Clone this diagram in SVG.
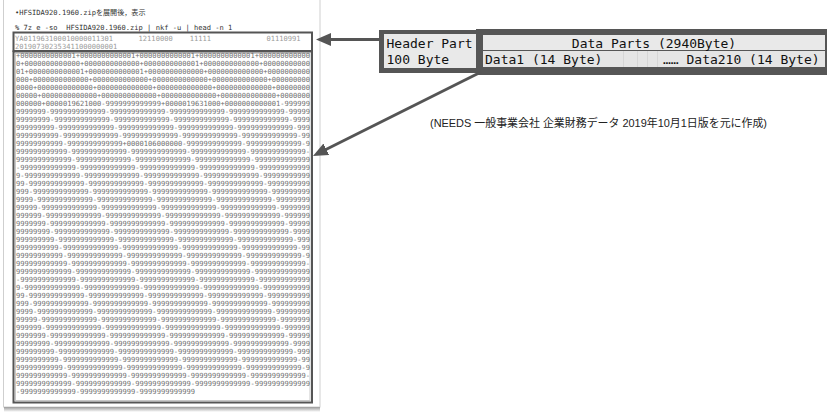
<svg xmlns="http://www.w3.org/2000/svg" width="827" height="415" viewBox="0 0 827 415">
<style>
.mono{font-family:"DejaVu Sans Mono","Liberation Mono","Noto Sans CJK JP",monospace;}
.small{font-size:7.08px;}
.dump{fill:#6e6e6e;}
.hdr{fill:#9a9a9a;}
.cmd{fill:#333;}
.cell{font-size:13px;fill:#111;}
.frame{fill:#565656;}
.bg1{fill:#e9e9e9;}
.bg2{fill:#e5e5e5;}
.conn{stroke:#555;stroke-width:3;fill:none;}
.cap{font-family:"Liberation Sans","Noto Sans CJK JP",sans-serif;font-size:11px;fill:#222;}
</style>
<defs>
<marker id="ah" markerUnits="userSpaceOnUse" markerWidth="16" markerHeight="14" refX="5" refY="6.5" orient="auto" viewBox="0 0 16 14">
<path d="M0,0 L15,6.5 L0,13 Z" fill="#555"/>
</marker>
<linearGradient id="sh" x1="0" y1="0" x2="0" y2="1">
<stop offset="0" stop-color="#9a9a9a"/>
<stop offset="1" stop-color="#ffffff"/>
</linearGradient>
</defs>
<rect width="827" height="415" fill="#fff"/>
<g id="page">
<rect x="3.5" y="-2" width="316.5" height="409" fill="#fff" stroke="#cfcfcf" stroke-width="1"/>
<rect x="4" y="407" width="316" height="5" fill="url(#sh)"/>
<text class="mono small cmd" x="15" y="15">•HFSIDA920.1960.zipを展開後，表示</text>
<text class="mono small cmd" x="15" y="29.5" xml:space="preserve">% 7z e -so  HFSIDA920.1960.zip | nkf -u | head -n 1</text>
</g>
<g id="header-box">
<rect x="13.5" y="32.5" width="298.5" height="18.5" fill="none" stroke="#555" stroke-width="2"/>
<text class="mono small hdr" x="15" y="41" xml:space="preserve">YA011963100010000011301      12110000    11111             01110991</text>
<text class="mono small hdr" x="15" y="49.2">201907302353411000000001</text>
</g>
<g id="data-box">
<rect x="13.5" y="51.5" width="298.5" height="351" fill="none" stroke="#555" stroke-width="2"/>
<rect x="15.5" y="53.5" width="294.5" height="347" fill="none" stroke="#c8c8c8" stroke-width="1"/>
<text class="mono small dump" x="15" y="57.5">
<tspan x="16" y="57.5">+0000000000001+0000000000001+0000000000001+0000000000001+000000000000</tspan>
<tspan x="16" dy="8">0+0000000000000+0000000000000+0000000000001+0000000000000+00000000000</tspan>
<tspan x="16" dy="8">01+0000000000001+0000000000001+0000000000000+0000000000000+0000000000</tspan>
<tspan x="16" dy="8">000+0000000000000+0000000000000+0000000000000+0000000000000+000000000</tspan>
<tspan x="16" dy="8">0000+0000000000000+0000000000000+0000000000000+0000000000000+00000000</tspan>
<tspan x="16" dy="8">00000+0000000000000+0000000000000+0000000000000+0000000000000+0000000</tspan>
<tspan x="16" dy="8">000000+0000019621000-9999999999999+0000019631000+0000000000001-999999</tspan>
<tspan x="16" dy="8">9999999-9999999999999-9999999999999-9999999999999-9999999999999-99999</tspan>
<tspan x="16" dy="8">99999999-9999999999999-9999999999999-9999999999999-9999999999999-9999</tspan>
<tspan x="16" dy="8">999999999-9999999999999-9999999999999-9999999999999-9999999999999-999</tspan>
<tspan x="16" dy="8">9999999999-9999999999999-9999999999999-9999999999999-9999999999999-99</tspan>
<tspan x="16" dy="8">99999999999-9999999999999+0000106000000-9999999999999-9999999999999-9</tspan>
<tspan x="16" dy="8">999999999999-9999999999999-9999999999999-9999999999999-9999999999999-</tspan>
<tspan x="16" dy="8">9999999999999-9999999999999-9999999999999-9999999999999-9999999999999</tspan>
<tspan x="16" dy="8">-9999999999999-9999999999999-9999999999999-9999999999999-999999999999</tspan>
<tspan x="16" dy="8">9-9999999999999-9999999999999-9999999999999-9999999999999-99999999999</tspan>
<tspan x="16" dy="8">99-9999999999999-9999999999999-9999999999999-9999999999999-9999999999</tspan>
<tspan x="16" dy="8">999-9999999999999-9999999999999-9999999999999-9999999999999-999999999</tspan>
<tspan x="16" dy="8">9999-9999999999999-9999999999999-9999999999999-9999999999999-99999999</tspan>
<tspan x="16" dy="8">99999-9999999999999-9999999999999-9999999999999-9999999999999-9999999</tspan>
<tspan x="16" dy="8">999999-9999999999999-9999999999999-9999999999999-9999999999999-999999</tspan>
<tspan x="16" dy="8">9999999-9999999999999-9999999999999-9999999999999-9999999999999-99999</tspan>
<tspan x="16" dy="8">99999999-9999999999999-9999999999999-9999999999999-9999999999999-9999</tspan>
<tspan x="16" dy="8">999999999-9999999999999-9999999999999-9999999999999-9999999999999-999</tspan>
<tspan x="16" dy="8">9999999999-9999999999999-9999999999999-9999999999999-9999999999999-99</tspan>
<tspan x="16" dy="8">99999999999-9999999999999-9999999999999-9999999999999-9999999999999-9</tspan>
<tspan x="16" dy="8">999999999999-9999999999999-9999999999999-9999999999999-9999999999999-</tspan>
<tspan x="16" dy="8">9999999999999-9999999999999-9999999999999-9999999999999-9999999999999</tspan>
<tspan x="16" dy="8">-9999999999999-9999999999999-9999999999999-9999999999999-999999999999</tspan>
<tspan x="16" dy="8">9-9999999999999-9999999999999-9999999999999-9999999999999-99999999999</tspan>
<tspan x="16" dy="8">99-9999999999999-9999999999999-9999999999999-9999999999999-9999999999</tspan>
<tspan x="16" dy="8">999-9999999999999-9999999999999-9999999999999-9999999999999-999999999</tspan>
<tspan x="16" dy="8">9999-9999999999999-9999999999999-9999999999999-9999999999999-99999999</tspan>
<tspan x="16" dy="8">99999-9999999999999-9999999999999-9999999999999-9999999999999-9999999</tspan>
<tspan x="16" dy="8">999999-9999999999999-9999999999999-9999999999999-9999999999999-999999</tspan>
<tspan x="16" dy="8">9999999-9999999999999-9999999999999-9999999999999-9999999999999-99999</tspan>
<tspan x="16" dy="8">99999999-9999999999999-9999999999999-9999999999999-9999999999999-9999</tspan>
<tspan x="16" dy="8">999999999-9999999999999-9999999999999-9999999999999-9999999999999-999</tspan>
<tspan x="16" dy="8">9999999999-9999999999999-9999999999999-9999999999999-9999999999999-99</tspan>
<tspan x="16" dy="8">99999999999-9999999999999-9999999999999-9999999999999-9999999999999-9</tspan>
<tspan x="16" dy="8">999999999999-9999999999999-9999999999999-9999999999999-9999999999999-</tspan>
<tspan x="16" dy="8">9999999999999-9999999999999-9999999999999-9999999999999-9999999999999</tspan>
<tspan x="16" dy="8">-9999999999999-9999999999999-9999999999999</tspan>
</text>
</g>
<g id="header-part">
<rect class="frame" x="379" y="30" width="104" height="43"/>
<rect class="bg1" x="384" y="34" width="92" height="34"/>
<text class="mono cell" x="386.5" y="48">Header Part</text>
<text class="mono cell" x="386.5" y="64">100 Byte</text>
</g>
<g id="data-parts">
<rect class="frame" x="476" y="29" width="351" height="46"/>
<rect class="bg1" x="483" y="35" width="342" height="15"/>
<rect class="bg2" x="483" y="51" width="342" height="16"/>
<g stroke="#d6d6d6" stroke-width="1">
<line x1="623.5" y1="51" x2="623.5" y2="67"/>
<line x1="637.5" y1="51" x2="637.5" y2="67"/>
<line x1="647.5" y1="51" x2="647.5" y2="67"/>
<line x1="657.5" y1="51" x2="657.5" y2="67"/>
</g>
<text class="mono cell" x="654" y="47.5" text-anchor="middle">Data Parts (2940Byte)</text>
<text class="mono cell" x="485" y="63.5">Data1 (14 Byte)</text>
<text class="mono cell" x="663" y="63.5">…… Data210 (14 Byte)</text>
</g>
<g id="connectors">
<line class="conn" x1="379" y1="39.5" x2="326" y2="39.5" marker-end="url(#ah)"/>
<line class="conn" x1="481" y1="72" x2="321.9" y2="151.5" marker-end="url(#ah)"/>
</g>
<g id="caption">
<text class="cap" x="430" y="127" textLength="337" lengthAdjust="spacingAndGlyphs">(NEEDS 一般事業会社 企業財務データ 2019年10月1日版を元に作成)</text>
</g>
</svg>
